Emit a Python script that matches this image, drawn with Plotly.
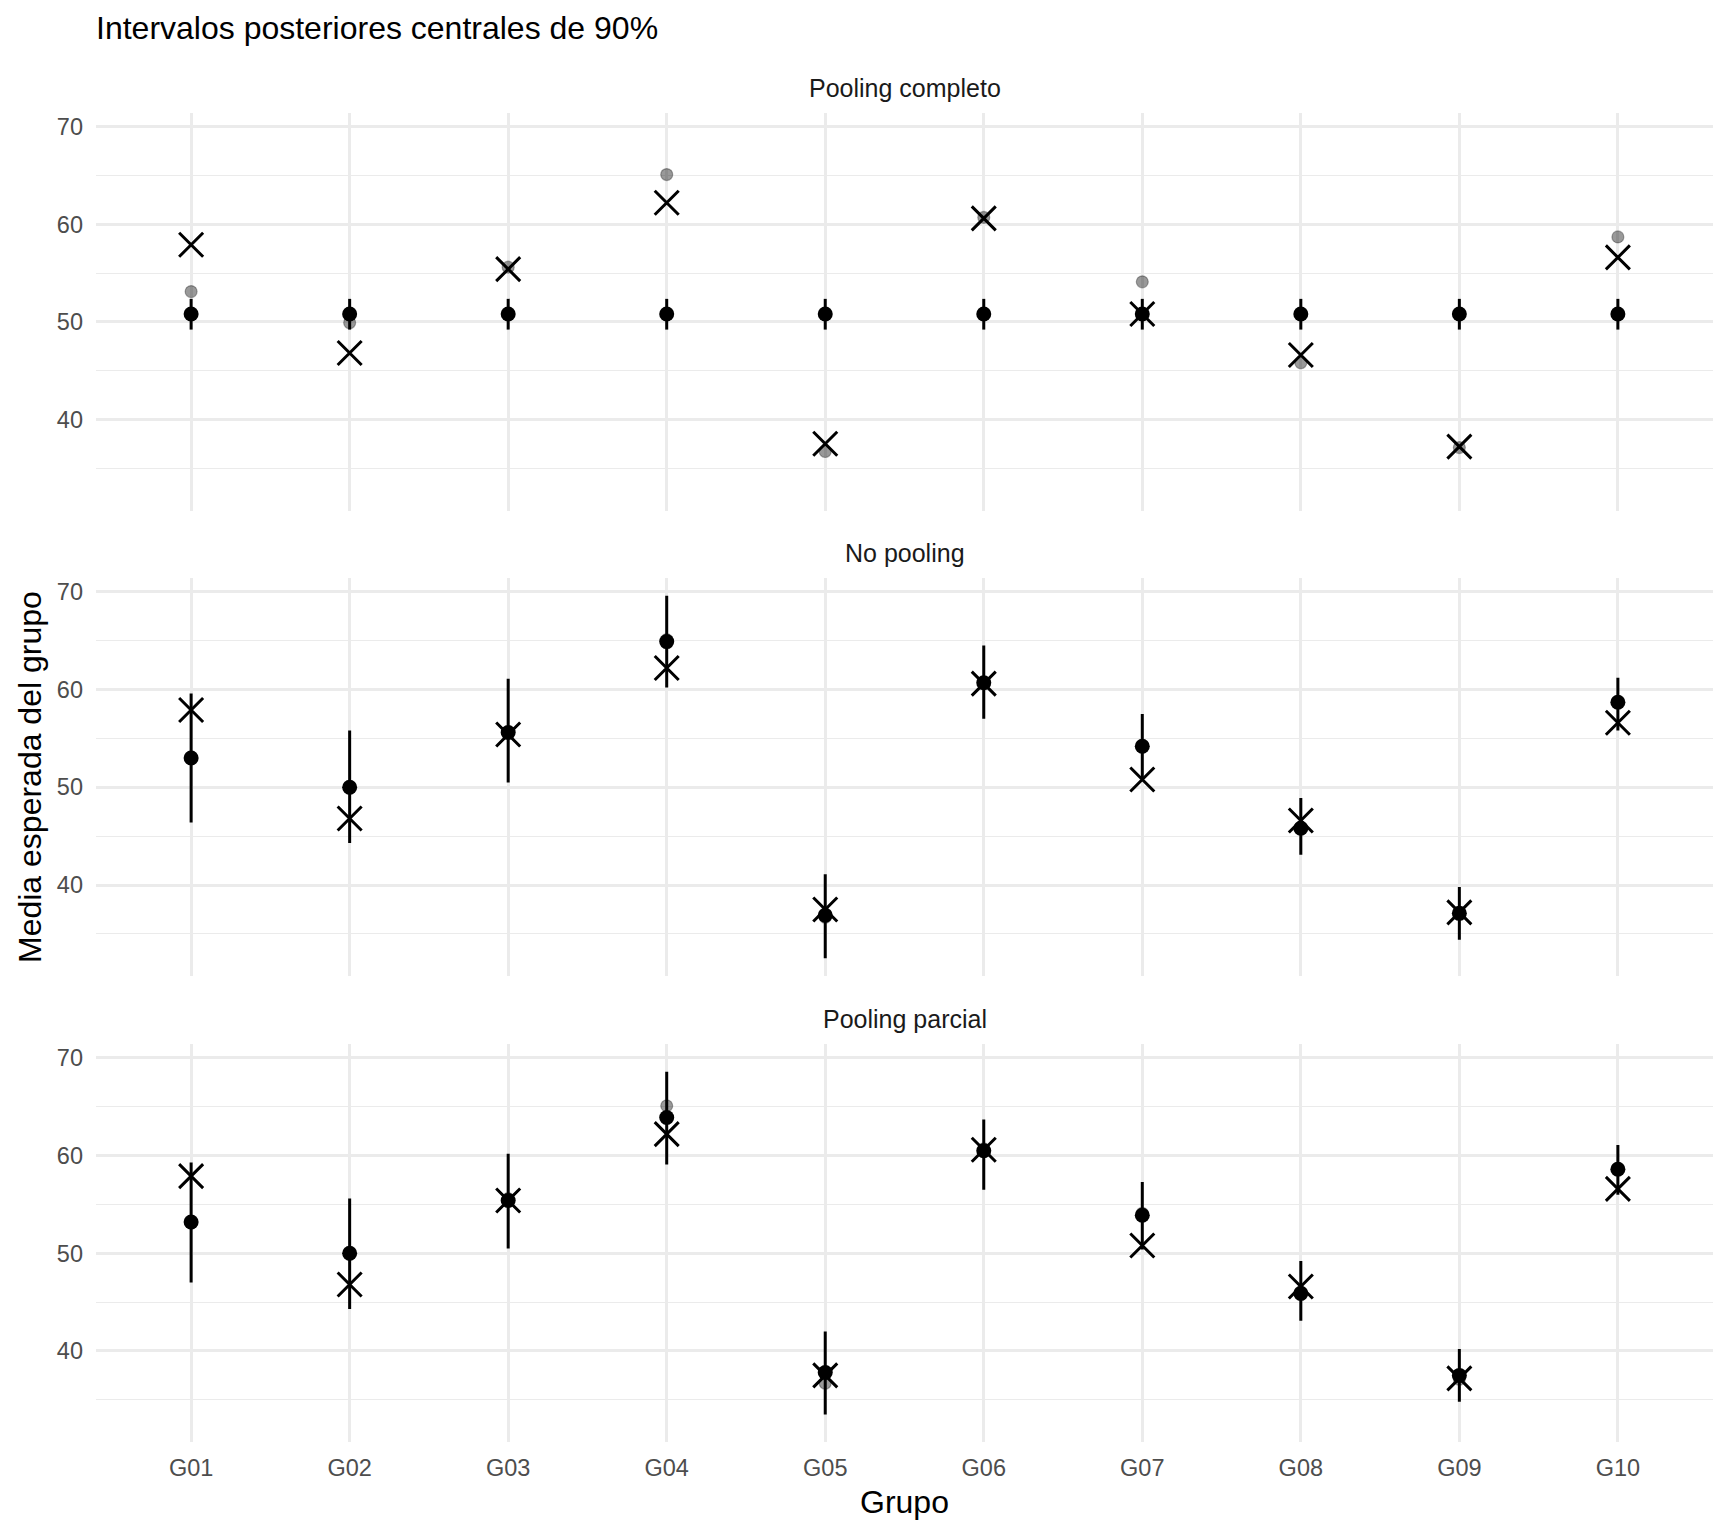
import plotly.graph_objects as go

# ---------------- data ----------------
groups = ["G01", "G02", "G03", "G04", "G05", "G06", "G07", "G08", "G09", "G10"]
true_means = [57.9, 46.8, 55.4, 62.2, 37.5, 60.6, 50.8, 46.6, 37.2, 56.6]
sample_means = [53.1, 49.9, 55.6, 65.1, 36.7, 60.7, 54.1, 45.8, 37.1, 58.7]

complete_est = [50.8, 50.8, 50.8, 50.8, 50.8, 50.8, 50.8, 50.8, 50.8, 50.8]
complete_lo = [49.2, 49.2, 49.2, 49.2, 49.2, 49.2, 49.2, 49.2, 49.2, 49.2]
complete_hi = [52.35, 52.35, 52.35, 52.35, 52.35, 52.35, 52.35, 52.35, 52.35, 52.35]

nopool_est = [53.0, 50.0, 55.6, 64.9, 36.9, 60.7, 54.2, 45.8, 37.1, 58.7]
nopool_lo = [46.4, 44.3, 50.5, 60.2, 32.5, 57.0, 50.8, 43.1, 34.4, 55.8]
nopool_hi = [59.6, 55.8, 61.1, 69.6, 41.1, 64.5, 57.5, 48.9, 39.8, 61.2]

partial_est = [53.2, 50.0, 55.4, 63.9, 37.8, 60.5, 53.9, 45.9, 37.5, 58.6]
partial_lo = [47.0, 44.3, 50.5, 59.1, 33.5, 56.5, 50.4, 43.1, 34.8, 56.0]
partial_hi = [59.3, 55.6, 60.2, 68.6, 42.0, 63.7, 57.3, 49.2, 40.2, 61.1]

panels = [
    ("Pooling completo", complete_est, complete_lo, complete_hi),
    ("No pooling", nopool_est, nopool_lo, nopool_hi),
    ("Pooling parcial", partial_est, partial_lo, partial_hi),
]

title_text = "Intervalos posteriores centrales de 90%"
x_title = "Grupo"
y_title = "Media esperada del grupo"
y_ticks = [40, 50, 60, 70]

# ---------------- layout geometry (page pixels) ----------------
PAGE_W, PAGE_H = 1728, 1536
OFF = 8  # default body margin of the html page
W, H = PAGE_W - 2 * OFF, PAGE_H - 2 * OFF


def px_x(p):
    return (p - OFF) / W


def px_y(p):
    return 1 - (p - OFF) / H


x_left, x_right = 96, 1713
panel_px = [(112.6, 510.5), (577.6, 976.4), (1043.8, 1442.3)]

FONT = "Liberation Sans, Arial, sans-serif"
GRID = "#ebebeb"

fig = go.Figure()
annotations = []

for i, (name, est, lo, hi) in enumerate(panels):
    k = "" if i == 0 else str(i + 1)
    xa, ya = "x" + k, "y" + k
    err_plus = [h - e for h, e in zip(hi, est)]
    err_minus = [e - l for e, l in zip(est, lo)]

    fig.add_trace(go.Scatter(
        x=groups, y=sample_means, mode="markers", xaxis=xa, yaxis=ya,
        marker=dict(size=12, color="rgba(0,0,0,0.4)",
                    line=dict(color="rgba(0,0,0,0.3)", width=1.2)),
        showlegend=False, hoverinfo="skip"))
    fig.add_trace(go.Scatter(
        x=groups, y=est, mode="markers", xaxis=xa, yaxis=ya,
        marker=dict(size=15, color="black"),
        error_y=dict(type="data", symmetric=False, array=err_plus,
                     arrayminus=err_minus, width=0, thickness=3, color="black"),
        showlegend=False))
    fig.add_trace(go.Scatter(
        x=groups, y=true_means, mode="markers", xaxis=xa, yaxis=ya,
        marker=dict(symbol="x-thin", size=24, color="black",
                    line=dict(color="black", width=3)),
        showlegend=False))

    top, bot = panel_px[i]
    axis_x = dict(
        domain=[px_x(x_left), px_x(x_right)], type="category",
        categoryorder="array", categoryarray=groups,
        range=[-0.6, 9.6], showgrid=True, gridcolor=GRID, gridwidth=2.7,
        zeroline=False, showline=False, anchor=ya,
        showticklabels=(i == 2), ticks="outside", ticklen=4,
        tickcolor="rgba(0,0,0,0)",
        tickfont=dict(family=FONT, size=23.5, color="#4d4d4d"))
    axis_y = dict(
        domain=[px_y(bot), px_y(top)], range=[30.65, 71.45], tickvals=y_ticks,
        showgrid=True, gridcolor=GRID, gridwidth=2.7, zeroline=False,
        showline=False, anchor=xa, ticks="", ticklabelstandoff=12,
        tickfont=dict(family=FONT, size=23.5, color="#4d4d4d"),
        minor=dict(tickvals=[35, 45, 55, 65], showgrid=True,
                   gridcolor=GRID, gridwidth=1.4))
    fig.layout["xaxis" + k] = axis_x
    fig.layout["yaxis" + k] = axis_y

    annotations.append(dict(
        text=name, xref="paper", yref="paper",
        x=px_x((x_left + x_right) / 2), y=px_y(top - 25),
        xanchor="center", yanchor="middle", showarrow=False,
        font=dict(family=FONT, size=25, color="#1a1a1a")))

annotations.append(dict(
    text=x_title, xref="paper", yref="paper",
    x=px_x((x_left + x_right) / 2), y=px_y(1502),
    xanchor="center", yanchor="middle", showarrow=False,
    font=dict(family=FONT, size=32, color="black")))
annotations.append(dict(
    text=y_title, xref="paper", yref="paper", textangle=-90,
    x=px_x(30), y=px_y(777),
    xanchor="center", yanchor="middle", showarrow=False,
    font=dict(family=FONT, size=32, color="black")))

fig.update_layout(
    width=W, height=H,
    margin=dict(l=0, r=0, t=0, b=0),
    paper_bgcolor="white", plot_bgcolor="white",
    title=dict(text=title_text, xref="paper", yref="paper",
               x=px_x(x_left), y=px_y(27.6), xanchor="left", yanchor="middle",
               font=dict(family=FONT, size=32, color="black")),
    annotations=annotations,
    showlegend=False,
)

fig.write_html("out.html")
